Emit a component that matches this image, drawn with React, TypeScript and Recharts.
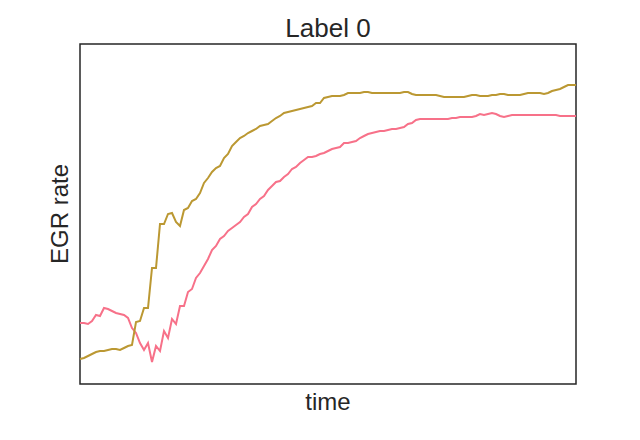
import React from 'react';
import { LineChart, Line, XAxis, YAxis, ReferenceArea } from 'recharts';

// time index positions (pixel-sampled time steps)
const timeSteps: number[] = Array.from({ length: 125 }, (_, i) => i);

// EGR rate readings (arbitrary units, higher = up)
const goldPix: number[] = [
  359, 358, 356, 354, 352, 351, 351, 350, 349, 349, 350, 348, 346, 345, 322, 321,
  308, 308, 268, 268, 224, 224, 214, 213, 222, 226, 210, 208, 201, 199, 193, 183,
  178, 172, 168, 166, 158, 154, 146, 142, 138, 136, 133, 131, 129, 126, 125, 124,
  121, 118, 116, 113, 112, 111, 110, 109, 108, 107, 106, 103, 103, 98, 97, 96,
  96, 96, 95, 93, 93, 93, 93, 92, 92, 93, 93, 93, 93, 93, 93, 93,
  93, 92, 92, 94, 95, 95, 95, 95, 95, 95, 96, 97, 97, 97, 97, 97,
  97, 96, 95, 95, 96, 96, 96, 95, 95, 94, 94, 95, 95, 95, 95, 94,
  93, 93, 93, 93, 94, 93, 91, 90, 89, 87, 85, 85, 85,
];
const pinkPix: number[] = [
  323, 323, 324, 321, 315, 316, 308, 309, 311, 313, 314, 315, 318, 328, 333, 343,
  350, 343, 362, 346, 351, 331, 338, 319, 324, 306, 306, 292, 289, 278, 273, 266,
  259, 250, 246, 239, 236, 231, 228, 225, 222, 217, 214, 207, 204, 199, 196, 190,
  186, 182, 181, 177, 174, 169, 167, 163, 160, 157, 157, 156, 154, 153, 151, 149,
  148, 147, 143, 143, 142, 141, 138, 136, 134, 133, 132, 131, 131, 130, 129, 129,
  128, 127, 124, 123, 120, 119, 119, 119, 119, 119, 119, 119, 119, 118, 118, 117,
  117, 117, 117, 116, 114, 115, 114, 113, 114, 116, 117, 116, 115, 115, 115, 115,
  115, 115, 115, 115, 115, 115, 115, 115, 116, 116, 116, 116, 116,
];

const data = timeSteps.map((t, i) => ({
  t,
  a: 384 - pinkPix[i],
  b: 384 - goldPix[i],
}));

const FONT = '"Liberation Sans", Arial, sans-serif';

export default function App() {
  return (
    <div style={{ position: 'absolute', left: 0, top: 0, width: 640, height: 440, background: '#fff' }}>
      <LineChart
        width={640}
        height={440}
        data={data}
        margin={{ top: 44, right: 64, bottom: 56, left: 80 }}
      >
        <XAxis dataKey="t" type="number" domain={[0, 124]} hide />
        <YAxis type="number" domain={[0, 340]} hide />
        <Line dataKey="a" stroke="#f77189" strokeWidth={2} dot={false} isAnimationActive={false} />
        <Line dataKey="b" stroke="#bb9832" strokeWidth={2} dot={false} isAnimationActive={false} />
        <ReferenceArea x1={0} x2={124} y1={0} y2={340} fill="none" stroke="#262626" strokeWidth={1.5} ifOverflow="visible" />
        <text x={328} y={37} textAnchor="middle" fontFamily={FONT} fontSize={26} fill="#262626">Label 0</text>
        <text x={328} y={410} textAnchor="middle" fontFamily={FONT} fontSize={24} fill="#262626">time</text>
        <text x={68} y={214} textAnchor="middle" fontFamily={FONT} fontSize={24} fill="#262626" transform="rotate(-90 68 214)">EGR rate</text>
      </LineChart>
    </div>
  );
}
